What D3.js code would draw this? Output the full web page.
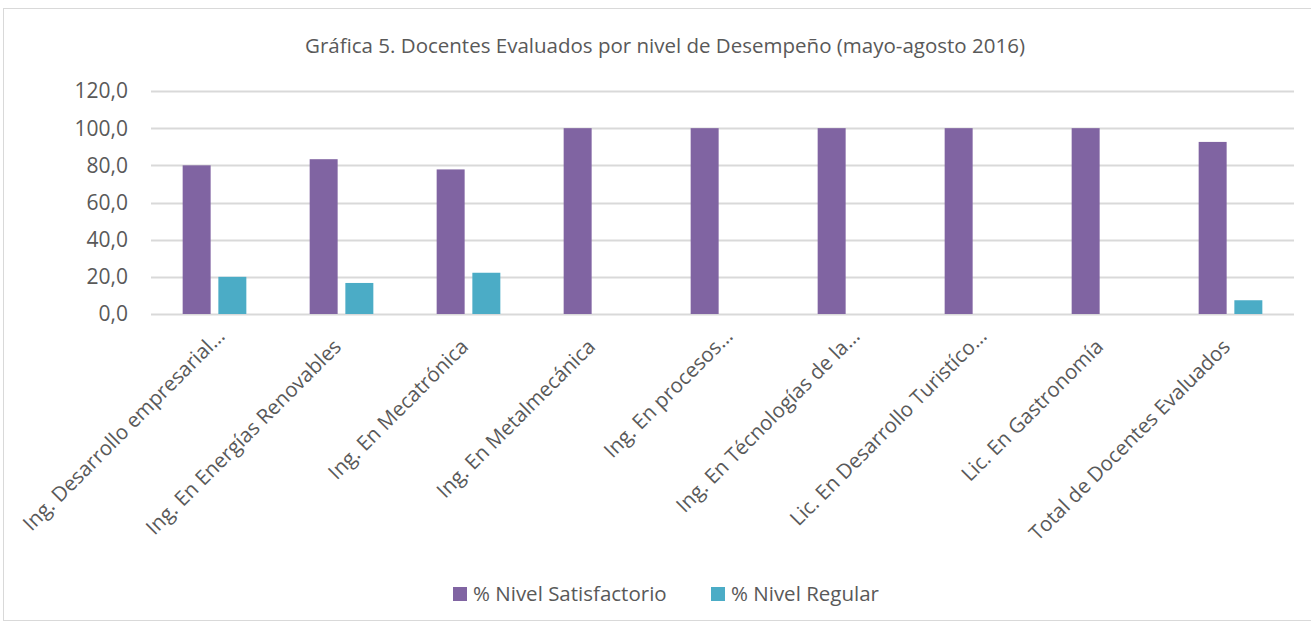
<!DOCTYPE html>
<html>
<head>
<meta charset="utf-8">
<script src="https://cdn.jsdelivr.net/npm/d3@7"></script>
<style>
  body { margin: 0; background: #fff; }
  text { font-family: "Open Sans", "Noto Sans", sans-serif; fill: #595959; }
</style>
</head>
<body>
<script>
const categories = [
  "Ing. Desarrollo empresarial...",
  "Ing. En Energías Renovables",
  "Ing. En Mecatrónica",
  "Ing. En Metalmecánica",
  "Ing. En procesos...",
  "Ing.  En Técnologías de la...",
  "Lic. En Desarrollo Turistíco...",
  "Lic. En Gastronomía",
  "Total de Docentes Evaluados"
];
const satisfactorio = [80.0, 83.3, 77.8, 100.0, 100.0, 100.0, 100.0, 100.0, 92.6];
const regular = [20.0, 16.7, 22.2, 0, 0, 0, 0, 0, 7.4];
const seriesNames = ["% Nivel Satisfactorio", "% Nivel Regular"];
const seriesColors = ["#8064A2", "#4BACC6"];
const yTicks = [0, 20, 40, 60, 80, 100, 120];

const width = 1311, height = 627;
const margin = { left: 151, right: 17, top: 91, bottom: 313 };

const svg = d3.select("body").append("svg")
  .attr("width", width)
  .attr("height", height);

// chart border
svg.append("rect")
  .attr("x", 3.5).attr("y", 8.5)
  .attr("width", width + 10).attr("height", 612)
  .attr("fill", "none")
  .attr("stroke", "#d9d9d9");

svg.append("text")
  .attr("x", 665).attr("y", 53)
  .attr("text-anchor", "middle")
  .attr("font-size", 20.5)
  .text("Gráfica 5. Docentes Evaluados por nivel de Desempeño (mayo-agosto 2016)");

const x = d3.scaleBand()
  .domain(categories)
  .range([margin.left, width - margin.right]);

const x1 = d3.scaleBand()
  .domain(seriesNames)
  .range([0, x.bandwidth()])
  .paddingInner(0.216)
  .paddingOuter(0.887);

const y = d3.scaleLinear()
  .domain([0, 120])
  .range([height - margin.bottom, margin.top]);

// gridlines
svg.append("g")
  .selectAll("line")
  .data(yTicks)
  .join("line")
  .attr("x1", margin.left)
  .attr("x2", width - margin.right)
  .attr("y1", d => Math.round(y(d)) + 0.5)
  .attr("y2", d => Math.round(y(d)) + 0.5)
  .attr("stroke", "#d9d9d9")
  .attr("stroke-width", 2);

// y labels
const fmt = d => d3.format(".1f")(d).replace(".", ",");
svg.append("g")
  .selectAll("text")
  .data(yTicks)
  .join("text")
  .attr("x", 128)
  .attr("y", d => y(d))
  .attr("dy", "0.35em")
  .attr("text-anchor", "end")
  .attr("font-size", 21)
  .text(fmt);

// bars
const rows = categories.map((c, i) => ({ c, vals: [satisfactorio[i], regular[i]] }));
const groups = svg.append("g")
  .selectAll("g")
  .data(rows)
  .join("g")
  .attr("transform", d => `translate(${x(d.c)},0)`);

groups.selectAll("rect")
  .data(d => d.vals.map((v, k) => ({ v, k })))
  .join("rect")
  .attr("x", d => x1(seriesNames[d.k]))
  .attr("width", x1.bandwidth())
  .attr("y", d => y(d.v))
  .attr("height", d => y(0) - y(d.v))
  .attr("fill", d => seriesColors[d.k]);

// x labels (truncated ones sit a bit further along the diagonal)
svg.append("g")
  .selectAll("text")
  .data(categories)
  .join("text")
  .attr("text-anchor", "end")
  .attr("font-size", 20.5)
  .attr("dx", d => d.endsWith("...") ? 15 : 0)
  .attr("transform", d => `translate(${x(d) + x.bandwidth() / 2 + 1},${height - margin.bottom + 34}) rotate(-45)`)
  .text(d => d);

// legend
const legendX = [453, 711];
const legend = svg.append("g")
  .selectAll("g")
  .data(seriesNames)
  .join("g")
  .attr("transform", (d, i) => `translate(${legendX[i]},587)`);
legend.append("rect")
  .attr("width", 14).attr("height", 14)
  .attr("fill", (d, i) => seriesColors[i]);
legend.append("text")
  .attr("x", 20).attr("y", 7)
  .attr("dy", "0.35em")
  .attr("font-size", 20.5)
  .text(d => d);
</script>
</body>
</html>
